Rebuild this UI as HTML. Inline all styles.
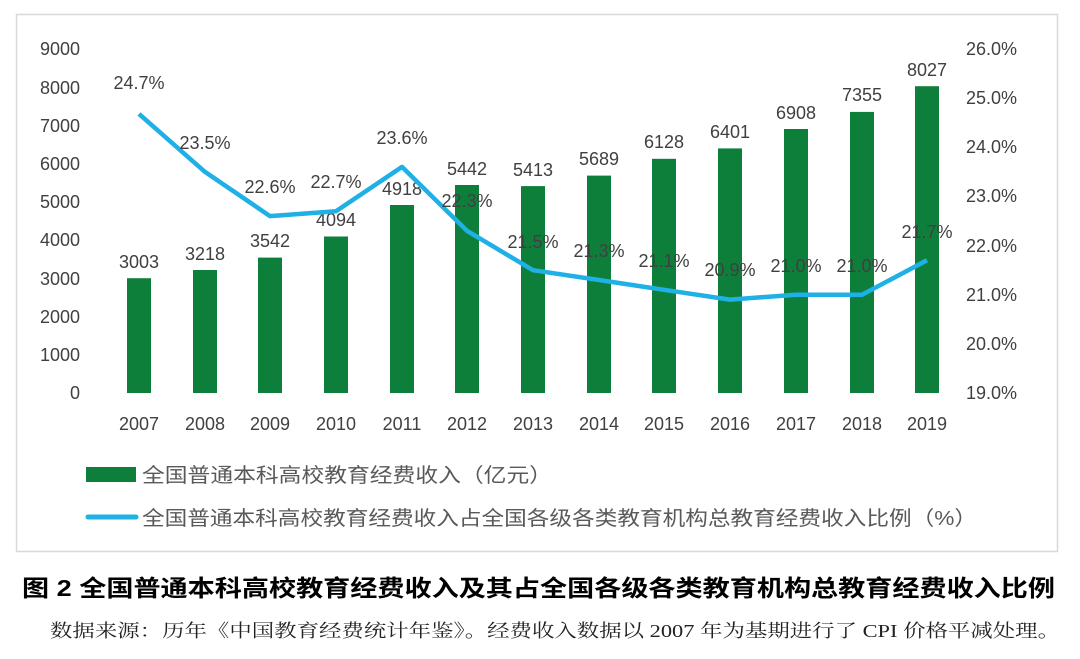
<!DOCTYPE html>
<html><head><meta charset="utf-8"><style>
body{margin:0;background:#fff;width:1080px;height:659px;overflow:hidden}
svg{display:block}
</style></head><body>
<svg width="1080" height="659" xmlns="http://www.w3.org/2000/svg" font-family="Liberation Sans, Noto Sans CJK SC, sans-serif">
<rect x="16.5" y="14.5" width="1041" height="537" fill="#fff" stroke="#d9d9d9" stroke-width="1.5"/>
<g font-size="18" fill="#404040" text-anchor="end">
<text x="80" y="55">9000</text><text x="80" y="94">8000</text><text x="80" y="132">7000</text><text x="80" y="170">6000</text><text x="80" y="208">5000</text><text x="80" y="246">4000</text><text x="80" y="285">3000</text><text x="80" y="323">2000</text><text x="80" y="361">1000</text><text x="80" y="399">0</text>
</g>
<g font-size="18" fill="#404040">
<text x="966" y="55">26.0%</text><text x="966" y="104">25.0%</text><text x="966" y="153">24.0%</text><text x="966" y="202">23.0%</text><text x="966" y="252">22.0%</text><text x="966" y="301">21.0%</text><text x="966" y="350">20.0%</text><text x="966" y="399">19.0%</text>
</g>
<g fill="#0e7f3b">
<rect x="127" y="278.2" width="24" height="114.8"/>
<rect x="193" y="270" width="24" height="123"/>
<rect x="258" y="257.6" width="24" height="135.4"/>
<rect x="324" y="236.5" width="24" height="156.5"/>
<rect x="390" y="205" width="24" height="188"/>
<rect x="455" y="185" width="24" height="208"/>
<rect x="521" y="186.1" width="24" height="206.9"/>
<rect x="587" y="175.6" width="24" height="217.4"/>
<rect x="652" y="158.8" width="24" height="234.2"/>
<rect x="718" y="148.4" width="24" height="244.6"/>
<rect x="784" y="129" width="24" height="264"/>
<rect x="850" y="111.9" width="24" height="281.1"/>
<rect x="915" y="86.2" width="24" height="306.8"/>
</g>
<g font-size="18" fill="#404040" text-anchor="middle">
<text x="139" y="268">3003</text><text x="205" y="260">3218</text><text x="270" y="247">3542</text><text x="336" y="226">4094</text><text x="402" y="195">4918</text><text x="467" y="175">5442</text><text x="533" y="176">5413</text><text x="599" y="165">5689</text><text x="664" y="148">6128</text><text x="730" y="138">6401</text><text x="796" y="119">6908</text><text x="862" y="101">7355</text><text x="927" y="76">8027</text>
</g>
<polyline fill="none" stroke="#1fb0e6" stroke-width="4.5" stroke-linejoin="round" points="139,113.9 205,171.9 270,216.1 336,211.2 402,166.9 467,230.8 533,270.2 599,280 664,289.8 730,299.6 796,294.7 862,294.7 927,260.3"/>
<g font-size="18" fill="#404040" text-anchor="middle">
<text x="139" y="89">24.7%</text><text x="205" y="149">23.5%</text><text x="270" y="193">22.6%</text><text x="336" y="188">22.7%</text><text x="402" y="144">23.6%</text><text x="467" y="207">22.3%</text><text x="533" y="248">21.5%</text><text x="599" y="257">21.3%</text><text x="664" y="267">21.1%</text><text x="730" y="276">20.9%</text><text x="796" y="272">21.0%</text><text x="862" y="272">21.0%</text><text x="927" y="238">21.7%</text>
</g>
<g font-size="18" fill="#404040" text-anchor="middle">
<text x="139" y="430">2007</text><text x="205" y="430">2008</text><text x="270" y="430">2009</text><text x="336" y="430">2010</text><text x="402" y="430">2011</text><text x="467" y="430">2012</text><text x="533" y="430">2013</text><text x="599" y="430">2014</text><text x="664" y="430">2015</text><text x="730" y="430">2016</text><text x="796" y="430">2017</text><text x="862" y="430">2018</text><text x="927" y="430">2019</text>
</g>
<rect x="86" y="467" width="50" height="15" fill="#0e7f3b"/>
<line x1="88" y1="517" x2="136" y2="517" stroke="#1fb0e6" stroke-width="5" stroke-linecap="round"/>
<g font-size="20" fill="#595959">
<text x="142" y="482" textLength="410" lengthAdjust="spacingAndGlyphs">全国普通本科高校教育经费收入（亿元）</text>
<text x="142" y="525" textLength="835" lengthAdjust="spacingAndGlyphs">全国普通本科高校教育经费收入占全国各级各类教育机构总教育经费收入比例（%）</text>
</g>
<text x="22" y="596" font-size="23" font-weight="bold" fill="#000" textLength="1033" lengthAdjust="spacingAndGlyphs">图 2 全国普通本科高校教育经费收入及其占全国各级各类教育机构总教育经费收入比例</text>
<text x="50" y="637" font-size="18" fill="#222" font-family="Liberation Serif, Noto Serif CJK SC, serif" textLength="1010" lengthAdjust="spacingAndGlyphs">数据来源：历年《中国教育经费统计年鉴》。经费收入数据以 2007 年为基期进行了 CPI 价格平减处理。</text>
</svg>
</body></html>
